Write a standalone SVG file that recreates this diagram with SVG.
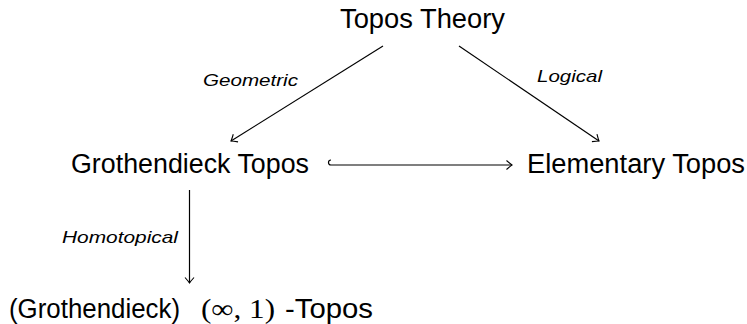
<svg xmlns="http://www.w3.org/2000/svg" width="747" height="324" viewBox="0 0 747 324">
  <style>
    .node { font-family: "Liberation Sans", Arial, sans-serif; font-size: 27px; fill: #000; }
    .math { font-family: "Liberation Serif", "DejaVu Serif", serif; font-size: 27px; fill: #000; }
    .lbl { font-family: "Liberation Sans", Arial, sans-serif; font-size: 17px; font-style: italic; fill: #000; }
    .edge { stroke: #000; stroke-width: 1.2; fill: none; marker-end: url(#tip); }
  </style>
  <defs>
    <marker id="tip" markerUnits="userSpaceOnUse" viewBox="-8 -6 10 12" refX="0" refY="0" markerWidth="10" markerHeight="12" orient="auto">
      <path d="M -5.5 -4.5 Q -1.8 -1.2 0 0 Q -1.8 1.2 -5.5 4.5" stroke="#000" stroke-width="1.1" fill="none"/>
    </marker>
  </defs>
  <rect width="747" height="324" fill="#fff"/>

  <g id="node-topos-theory">
    <text class="node" x="340" y="28" textLength="165" lengthAdjust="spacingAndGlyphs">Topos Theory</text>
  </g>
  <g id="node-grothendieck-topos">
    <text class="node" x="71" y="173" textLength="238" lengthAdjust="spacingAndGlyphs">Grothendieck Topos</text>
  </g>
  <g id="node-elementary-topos">
    <text class="node" x="527" y="173" textLength="218" lengthAdjust="spacingAndGlyphs">Elementary Topos</text>
  </g>
  <g id="node-infinity-topos">
    <text class="node" x="9" y="318" textLength="171" lengthAdjust="spacingAndGlyphs">(Grothendieck)</text>
    <text class="math" x="201" y="318" textLength="74" lengthAdjust="spacingAndGlyphs">(∞, 1)</text>
    <text class="node" x="285" y="318" textLength="88" lengthAdjust="spacingAndGlyphs">-Topos</text>
  </g>

  <g id="connectors">
    <path class="edge" d="M 383 46 L 231 141"/>
    <path class="edge" d="M 459 46 L 599 141"/>
    <path class="edge" d="M 331 160 A 2.5 2.5 0 0 0 331 165 L 512 165"/>
    <path class="edge" d="M 189.5 190 L 189.5 283"/>
    <text class="lbl" x="203" y="86" textLength="95" lengthAdjust="spacingAndGlyphs">Geometric</text>
    <text class="lbl" x="537" y="82" textLength="65" lengthAdjust="spacingAndGlyphs">Logical</text>
    <text class="lbl" x="62" y="243" textLength="116" lengthAdjust="spacingAndGlyphs">Homotopical</text>
  </g>
</svg>
